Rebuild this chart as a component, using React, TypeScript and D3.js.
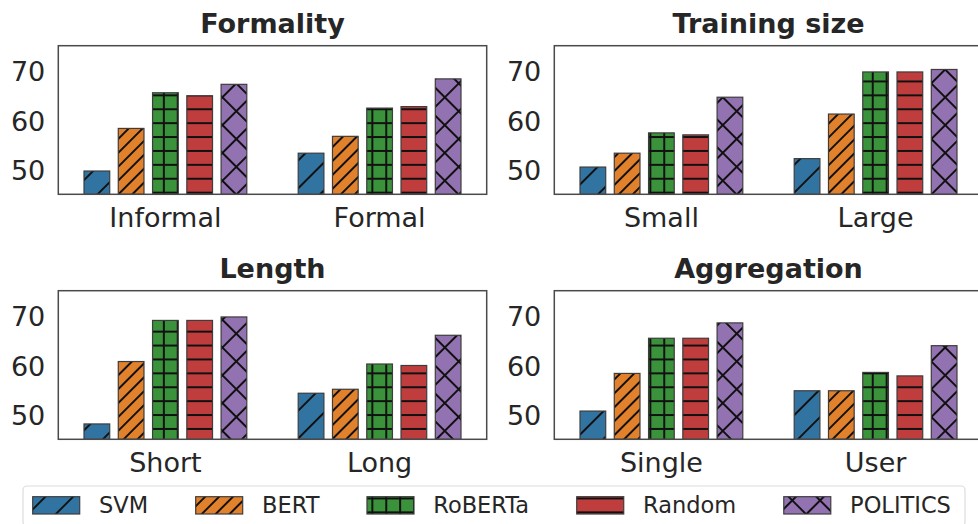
import React from "react";
import * as d3 from "d3";

// models / legend
const models = ["SVM", "BERT", "RoBERTa", "Random", "POLITICS"];
const colors = ["#3274a1", "#e1812c", "#3a923a", "#c03d3e", "#9372b2"];
const hatchIds = ["h-slash", "h-dslash", "h-plus", "h-dash", "h-cross"];

// panel titles and categories
const titles = ["Formality", "Training size", "Length", "Aggregation"];
const formalityGroups = ["Informal", "Formal"];
const trainingGroups = ["Small", "Large"];
const lengthGroups = ["Short", "Long"];
const aggregationGroups = ["Single", "User"];

// scores, one array per group, in model order
const informalScores = [49.7, 58.3, 65.5, 64.9, 67.2];
const formalScores = [53.3, 56.7, 62.4, 62.7, 68.3];
const smallScores = [50.5, 53.3, 57.4, 57.0, 64.6];
const largeScores = [52.2, 61.2, 69.7, 69.7, 70.2];
const shortScores = [48.1, 60.7, 69.0, 69.0, 69.7];
const longScores = [54.3, 55.1, 60.2, 59.9, 66.0];
const singleScores = [50.7, 58.3, 65.4, 65.4, 68.5];
const userScores = [54.8, 54.8, 58.5, 57.8, 63.9];

const yTicks = [50, 60, 70];
const yDomain = [45, 75];

const panels = [
  { title: titles[0], groups: formalityGroups, scores: [informalScores, formalScores] },
  { title: titles[1], groups: trainingGroups, scores: [smallScores, largeScores] },
  { title: titles[2], groups: lengthGroups, scores: [shortScores, longScores] },
  { title: titles[3], groups: aggregationGroups, scores: [singleScores, userScores] },
];

const W = 978;
const H = 524;
const axW = 428.4;
const axH = 148.6;
const lefts = [58.3, 554.3];
const tops = [45.7, 290.7];
const ink = "#262626";
const font = "DejaVu Sans";

const Hatches = () => {
  const s = 27.8;
  const d = s / Math.SQRT2;
  const sw = 2;
  const st = "#111";
  return (
    <defs>
      <pattern id="h-slash" patternUnits="userSpaceOnUse" width={d} height={20} patternTransform="rotate(45)">
        <line x1={d / 2} y1={0} x2={d / 2} y2={20} stroke={st} strokeWidth={sw} />
      </pattern>
      <pattern id="h-dslash" patternUnits="userSpaceOnUse" width={d / 2} height={20} patternTransform="rotate(45)">
        <line x1={d / 4} y1={0} x2={d / 4} y2={20} stroke={st} strokeWidth={sw} />
      </pattern>
      <pattern id="h-plus" patternUnits="userSpaceOnUse" width={s / 2} height={s / 2} patternTransform="translate(4,5)">
        <line x1={0} y1={s / 4} x2={s / 2} y2={s / 4} stroke={st} strokeWidth={sw} />
        <line x1={s / 4} y1={0} x2={s / 4} y2={s / 2} stroke={st} strokeWidth={sw} />
      </pattern>
      <pattern id="h-dash" patternUnits="userSpaceOnUse" width={s / 2} height={s / 2} patternTransform="translate(0,5)">
        <line x1={0} y1={s / 4} x2={s / 2} y2={s / 4} stroke={st} strokeWidth={sw} />
      </pattern>
      <pattern id="h-cross" patternUnits="userSpaceOnUse" width={d} height={d} patternTransform="rotate(45)">
        <line x1={d / 2} y1={0} x2={d / 2} y2={d} stroke={st} strokeWidth={sw} />
        <line x1={0} y1={d / 2} x2={d} y2={d / 2} stroke={st} strokeWidth={sw} />
      </pattern>
    </defs>
  );
};

const Panel = ({ panel, x0, y0 }) => {
  const x = d3.scaleLinear().domain([-0.5, 1.5]).range([x0, x0 + axW]);
  const y = d3.scaleLinear().domain(yDomain).range([y0 + axH, y0]);
  const step = 0.16;
  const bw = 0.12;
  return (
    <g>
      <text x={x0 + axW / 2} y={y0 - 12.7} textAnchor="middle" fontSize={27} fontWeight="bold" fill={ink}>
        {panel.title}
      </text>
      {yTicks.map((t) => (
        <text key={t} x={x0 - 13} y={y(t)} dy="0.4em" textAnchor="end" fontSize={27} fill={ink}>
          {t}
        </text>
      ))}
      {panel.groups.map((g, gi) => (
        <g key={g}>
          {panel.scores[gi].map((v, mi) => {
            const c = gi + (mi - 2) * step;
            const xl = x(c - bw / 2);
            const xr = x(c + bw / 2);
            return (
              <g key={mi}>
                <rect x={xl} y={y(v)} width={xr - xl} height={y(yDomain[0]) - y(v)} fill={colors[mi]} />
                <rect
                  x={xl}
                  y={y(v)}
                  width={xr - xl}
                  height={y(yDomain[0]) - y(v)}
                  fill={`url(#${hatchIds[mi]})`}
                  stroke="#3d3d3d"
                  strokeWidth={1.2}
                />
              </g>
            );
          })}
          <text x={x(gi)} y={y0 + axH + 32.3} textAnchor="middle" fontSize={27} fill={ink}>
            {g}
          </text>
        </g>
      ))}
      <rect x={x0} y={y0} width={axW} height={axH} fill="none" stroke="#4a4a4a" strokeWidth={1.5} />
    </g>
  );
};

const Legend = () => {
  const ctx = document.createElement("canvas").getContext("2d");
  const fs = 22.5;
  ctx.font = `${fs}px "${font}"`;
  let cx = 32.7;
  const items = models.map((m, i) => {
    const item = { m, i, px: cx, tx: cx + 66.3 };
    cx = item.tx + ctx.measureText(m).width + 47.6;
    return item;
  });
  return (
    <g>
      <rect x={23} y={486} width={942} height={40} rx={4} fill="#fff" stroke="#dcdcdc" strokeWidth={1.2} />
      {items.map((it) => (
        <g key={it.m}>
          <rect x={it.px} y={496.7} width={47} height={17.3} fill={colors[it.i]} />
          <rect
            x={it.px}
            y={496.7}
            width={47}
            height={17.3}
            fill={`url(#${hatchIds[it.i]})`}
            stroke="#3d3d3d"
            strokeWidth={1.2}
          />
          <text x={it.tx} y={513.3} fontSize={fs} fill={ink}>
            {it.m}
          </text>
        </g>
      ))}
    </g>
  );
};

export default function App() {
  return (
    <svg
      width={W}
      height={H}
      style={{ position: "absolute", left: 0, top: 0, background: "#fff" }}
      fontFamily={font}
    >
      <Hatches />
      {panels.map((p, i) => (
        <Panel key={p.title} panel={p} x0={lefts[i % 2]} y0={tops[Math.floor(i / 2)]} />
      ))}
      <Legend />
    </svg>
  );
}
